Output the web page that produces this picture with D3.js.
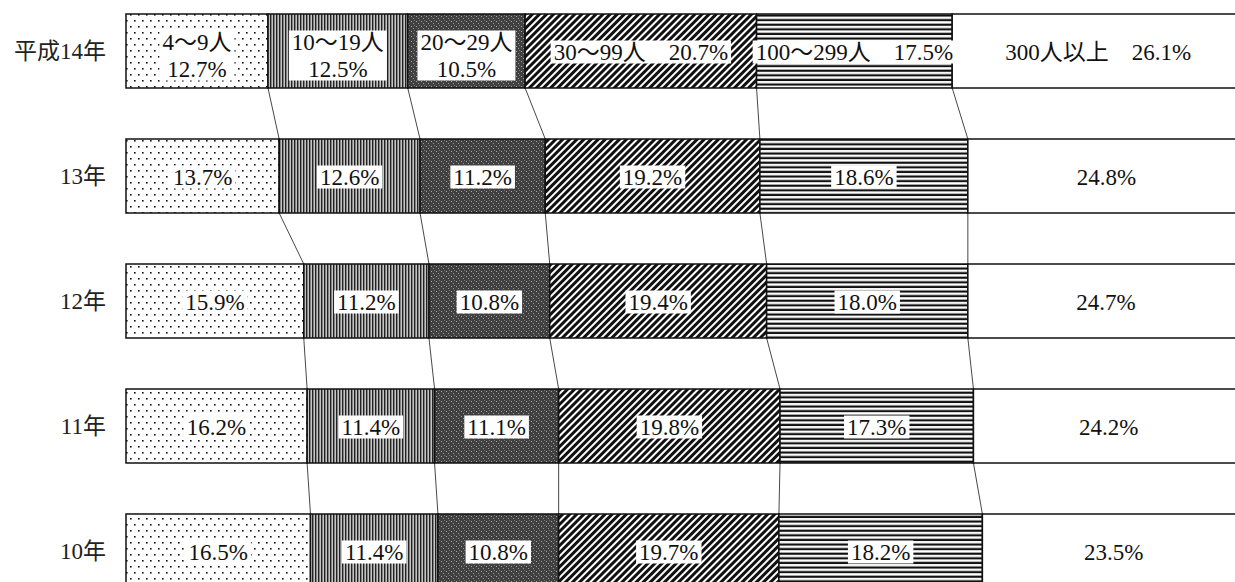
<!DOCTYPE html>
<head>
  <meta charset="utf-8" />
  <script src="https://d3js.org/d3.v7.min.js"></script>
  <style>
    body {
      margin: 0;
      background: #fff;
    }
    svg {
      display: block;
    }
    .rowlabel {
      font-family: "Liberation Serif", "Noto Sans CJK JP", serif;
      font-size: 23px;
      fill: #222;
    }
    .val {
      font-family: "Liberation Serif", "Noto Sans CJK JP", serif;
      font-size: 23px;
      fill: #111;
    }
  </style>
</head>

<body>
  <script>
    var width = 1235,
      height = 582;

    // data: share of employees by establishment size (%)
    var years = ["平成14年", "13年", "12年", "11年", "10年"];
    var sizes = ["4〜9人", "10〜19人", "20〜29人", "30〜99人", "100〜299人", "300人以上"];
    var h14 = [12.7, 12.5, 10.5, 20.7, 17.5, 26.1];
    var h13 = [13.7, 12.6, 11.2, 19.2, 18.6, 24.8];
    var h12 = [15.9, 11.2, 10.8, 19.4, 18.0, 24.7];
    var h11 = [16.2, 11.4, 11.1, 19.8, 17.3, 24.2];
    var h10 = [16.5, 11.4, 10.8, 19.7, 18.2, 23.5];
    var shares = [h14, h13, h12, h11, h10];

    var svg = d3
      .select("body")
      .append("svg")
      .attr("width", width)
      .attr("height", height);

    var defs = svg.append("defs");

    // patterns, one per size class
    var p;
    p = defs.append("pattern").attr("id", "pat0").attr("patternUnits", "userSpaceOnUse")
      .attr("width", 8).attr("height", 12);
    p.append("rect").attr("width", 8).attr("height", 12).attr("fill", "#fff");
    p.append("rect").attr("x", 2).attr("y", 2).attr("width", 1.6).attr("height", 1.6).attr("fill", "#111");
    p.append("rect").attr("x", 6).attr("y", 8).attr("width", 1.6).attr("height", 1.6).attr("fill", "#111");

    p = defs.append("pattern").attr("id", "pat1").attr("patternUnits", "userSpaceOnUse")
      .attr("width", 3).attr("height", 6);
    p.append("rect").attr("width", 3).attr("height", 6).attr("fill", "#c4c4c4");
    p.append("rect").attr("width", 1.4).attr("height", 6).attr("fill", "#222");

    p = defs.append("pattern").attr("id", "pat2").attr("patternUnits", "userSpaceOnUse")
      .attr("width", 5).attr("height", 5);
    p.append("rect").attr("width", 5).attr("height", 5).attr("fill", "#404040");
    p.append("rect").attr("x", 1).attr("y", 1).attr("width", 1).attr("height", 1).attr("fill", "#aaa");
    p.append("rect").attr("x", 3).attr("y", 3).attr("width", 1).attr("height", 1).attr("fill", "#999");
    p.append("rect").attr("x", 4).attr("y", 0).attr("width", 1).attr("height", 1).attr("fill", "#777");

    p = defs.append("pattern").attr("id", "pat3").attr("patternUnits", "userSpaceOnUse")
      .attr("width", 5).attr("height", 10).attr("patternTransform", "rotate(45)");
    p.append("rect").attr("width", 5).attr("height", 10).attr("fill", "#fff");
    p.append("rect").attr("width", 3).attr("height", 10).attr("fill", "#111");

    p = defs.append("pattern").attr("id", "pat4").attr("patternUnits", "userSpaceOnUse")
      .attr("width", 10).attr("height", 4.6);
    p.append("rect").attr("width", 10).attr("height", 4.6).attr("fill", "#fff");
    p.append("rect").attr("y", 0.6).attr("width", 10).attr("height", 2.2).attr("fill", "#111");

    var fills = ["url(#pat0)", "url(#pat1)", "url(#pat2)", "url(#pat3)", "url(#pat4)", "#fff"];

    var x = d3.scaleLinear().domain([0, 100]).range([126, 1244]);
    var y = d3.scaleBand().domain(years).range([14, 588]).paddingInner(0.408).paddingOuter(0);
    var fmt = d3.format(".1f");

    // stacked segments
    var rows = years.map(function (yr, i) {
      var cum = 0;
      return shares[i].map(function (v, j) {
        var seg = { year: yr, row: i, k: j, v: v, x0: cum, x1: cum + v };
        cum += v;
        return seg;
      });
    });

    // connector lines between neighbouring bars
    var links = [];
    for (var i = 0; i < rows.length - 1; i++) {
      for (var j = 0; j < sizes.length - 1; j++) {
        links.push({ a: rows[i][j].x1, b: rows[i + 1][j].x1, ya: years[i], yb: years[i + 1] });
      }
    }
    svg.append("g")
      .selectAll("line")
      .data(links)
      .join("line")
      .attr("x1", (d) => x(d.a))
      .attr("x2", (d) => x(d.b))
      .attr("y1", (d) => y(d.ya) + y.bandwidth())
      .attr("y2", (d) => y(d.yb))
      .attr("stroke", "#333")
      .attr("stroke-width", 0.9);

    var bars = svg.append("g")
      .selectAll("g")
      .data(rows)
      .join("g");

    bars.selectAll("rect")
      .data((d) => d)
      .join("rect")
      .attr("x", (d) => x(d.x0))
      .attr("width", (d) => x(d.x1) - x(d.x0))
      .attr("y", (d) => y(d.year))
      .attr("height", y.bandwidth())
      .attr("fill", (d) => fills[d.k])
      .attr("stroke", "#111")
      .attr("stroke-width", 1.5);

    // row labels
    svg.append("g")
      .selectAll("text")
      .data(years)
      .join("text")
      .attr("class", "rowlabel")
      .attr("x", 106)
      .attr("y", (d) => y(d) + y.bandwidth() / 2)
      .attr("text-anchor", "end")
      .attr("dominant-baseline", "central")
      .text((d) => d);

    // value labels with white boxes
    var all = [].concat.apply([], rows);
    var lab = svg.append("g")
      .selectAll("g")
      .data(all)
      .join("g")
      .attr("transform", (d) => "translate(" + x((d.x0 + d.x1) / 2) + "," + (y(d.year) + y.bandwidth() / 2) + ")");

    var box = lab.append("rect").attr("fill", "#fff");

    lab.each(function (d) {
      var g = d3.select(this);
      var t = g.append("text")
        .attr("class", "val")
        .attr("text-anchor", "middle")
        .attr("dominant-baseline", "central");
      var val = fmt(d.v) + "%";
      if (d.row == 0 && d.k < 3) {
        t.append("tspan").attr("x", 0).attr("y", -9).text(sizes[d.k]);
        t.append("tspan").attr("x", 0).attr("y", 18).text(val);
      } else if (d.row == 0) {
        t.attr("y", 1).text(sizes[d.k] + "\u3000" + val);
      } else {
        t.attr("y", 1).text(val);
      }
      var b = t.node().getBBox();
      g.select("rect")
        .attr("x", b.x - 3)
        .attr("y", b.y + 1)
        .attr("width", b.width + 6)
        .attr("height", b.height - 2);
    });
  </script>
</body>
